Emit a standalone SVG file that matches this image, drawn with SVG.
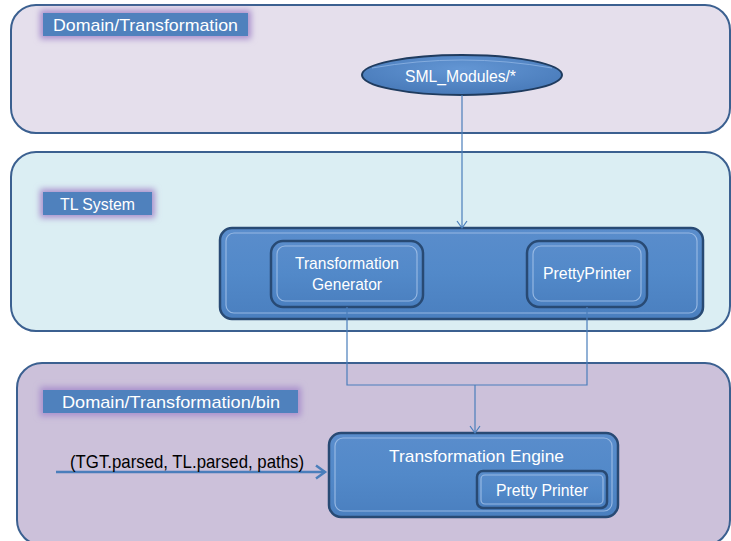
<svg xmlns="http://www.w3.org/2000/svg" width="731" height="541" viewBox="0 0 731 541">
<style>
.panel{stroke:#3b6090;stroke-width:2}
.lbl{fill:#4f81bd}
.glow{fill:#a88fcc;filter:url(#blur)}
.wt{font-family:"Liberation Sans",Arial,sans-serif;fill:#ffffff;font-size:17px}
.bt{font-family:"Liberation Sans",Arial,sans-serif;fill:#000000;font-size:19px}
.box{fill:url(#bev);stroke:#284a74;stroke-width:2.5}
.hl{fill:none;stroke:#9cbde6;stroke-width:1.2;opacity:0.9}
.conn{fill:none;stroke:#4a7ebb;stroke-width:1.2}
</style>
<defs>
<filter id="blur" x="-20%" y="-50%" width="140%" height="200%"><feGaussianBlur stdDeviation="3"/></filter>
<linearGradient id="bev" x1="0" y1="0" x2="0" y2="1">
<stop offset="0" stop-color="#5a8dcc"/>
<stop offset="0.5" stop-color="#5289c9"/>
<stop offset="1" stop-color="#4a7fbf"/>
</linearGradient>
<radialGradient id="ell" cx="0.5" cy="0.35" r="0.6">
<stop offset="0" stop-color="#6396d4"/>
<stop offset="1" stop-color="#4a7cbb"/>
</radialGradient>
<marker id="arr" markerUnits="userSpaceOnUse" markerWidth="14" markerHeight="14" refX="10" refY="6" orient="auto">
<path d="M3,1 L10,6 L3,11" fill="none" stroke="#4a7ebb" stroke-width="1.2"/>
</marker>
<marker id="arr2" markerUnits="userSpaceOnUse" markerWidth="16" markerHeight="16" refX="12" refY="8" orient="auto">
<path d="M3,1.5 L12,8 L3,14.5" fill="none" stroke="#4a7ebb" stroke-width="2.5"/>
</marker>
</defs>

<g id="panel-domain">
<rect class="panel" x="11" y="5" width="719" height="128" rx="25" fill="#e5dfec"/>
<rect class="glow" x="40" y="10" width="211" height="29"/>
<rect class="lbl" x="43" y="13" width="205" height="23"/>
<text class="wt" x="53" y="31" font-size="19" textLength="185" lengthAdjust="spacingAndGlyphs">Domain/Transformation</text>
</g>

<g id="panel-tl">
<rect class="panel" x="11" y="152" width="719" height="179" rx="25" fill="#dbeef3"/>
<rect class="glow" x="40" y="189" width="115" height="29"/>
<rect class="lbl" x="43" y="192" width="109" height="23"/>
<text class="wt" x="60" y="210" font-size="18" textLength="75" lengthAdjust="spacingAndGlyphs">TL System</text>
</g>

<g id="panel-bin">
<rect class="panel" x="17" y="363" width="713" height="182" rx="25" fill="#ccc1da"/>
<rect class="glow" x="40" y="387" width="261" height="29"/>
<rect class="lbl" x="43" y="390" width="255" height="23"/>
<text class="wt" x="62" y="408" font-size="19" textLength="218" lengthAdjust="spacingAndGlyphs">Domain/Transformation/bin</text>
</g>

<g id="node-sml">
<ellipse cx="462" cy="75" rx="100" ry="20" fill="url(#ell)" stroke="#1f3b5e" stroke-width="2"/>
<path d="M372,68 Q462,52 552,68" fill="none" stroke="#8fb4e3" stroke-width="1" opacity="0.8"/>
<text class="wt" x="405" y="82" textLength="111" lengthAdjust="spacingAndGlyphs">SML_Modules/*</text>
</g>

<g id="node-tl-container">
<rect class="box" x="220" y="228" width="483" height="91" rx="12"/>
<rect class="hl" x="226" y="233" width="471" height="80" rx="8"/>
</g>

<g id="node-generator">
<rect class="box" x="271" y="241" width="152" height="66" rx="12"/>
<rect class="hl" x="277" y="246" width="140" height="55" rx="8"/>
<text class="wt" x="295" y="269" textLength="104" lengthAdjust="spacingAndGlyphs">Transformation</text>
<text class="wt" x="312" y="290" textLength="70" lengthAdjust="spacingAndGlyphs">Generator</text>
</g>

<g id="node-prettyprinter">
<rect class="box" x="527" y="241" width="120" height="66" rx="12"/>
<rect class="hl" x="533" y="246" width="108" height="55" rx="8"/>
<text class="wt" x="543" y="279" textLength="88" lengthAdjust="spacingAndGlyphs">PrettyPrinter</text>
</g>

<g id="node-engine">
<rect class="box" x="329" y="433" width="289" height="84" rx="12"/>
<rect class="hl" x="335" y="438" width="277" height="73" rx="8"/>
<text class="wt" x="389" y="462" font-size="18" textLength="175" lengthAdjust="spacingAndGlyphs">Transformation Engine</text>
</g>

<g id="node-engine-printer">
<rect class="box" x="477" y="471" width="130" height="37" rx="6"/>
<rect class="hl" x="481" y="475" width="122" height="29" rx="4"/>
<text class="wt" x="496" y="496" font-size="18" textLength="92" lengthAdjust="spacingAndGlyphs">Pretty Printer</text>
</g>

<g id="connectors">
<path class="conn" d="M462,95 V228" marker-end="url(#arr)"/>
<path class="conn" d="M347,307 V385 H587 V307"/>
<path class="conn" d="M475,385 V433" marker-end="url(#arr)"/>
<path d="M56,472 H325" fill="none" stroke="#4a7ebb" stroke-width="2.5" marker-end="url(#arr2)"/>
<text class="bt" x="70" y="468" textLength="234" lengthAdjust="spacingAndGlyphs">(TGT.parsed, TL.parsed, paths)</text>
</g>
</svg>
